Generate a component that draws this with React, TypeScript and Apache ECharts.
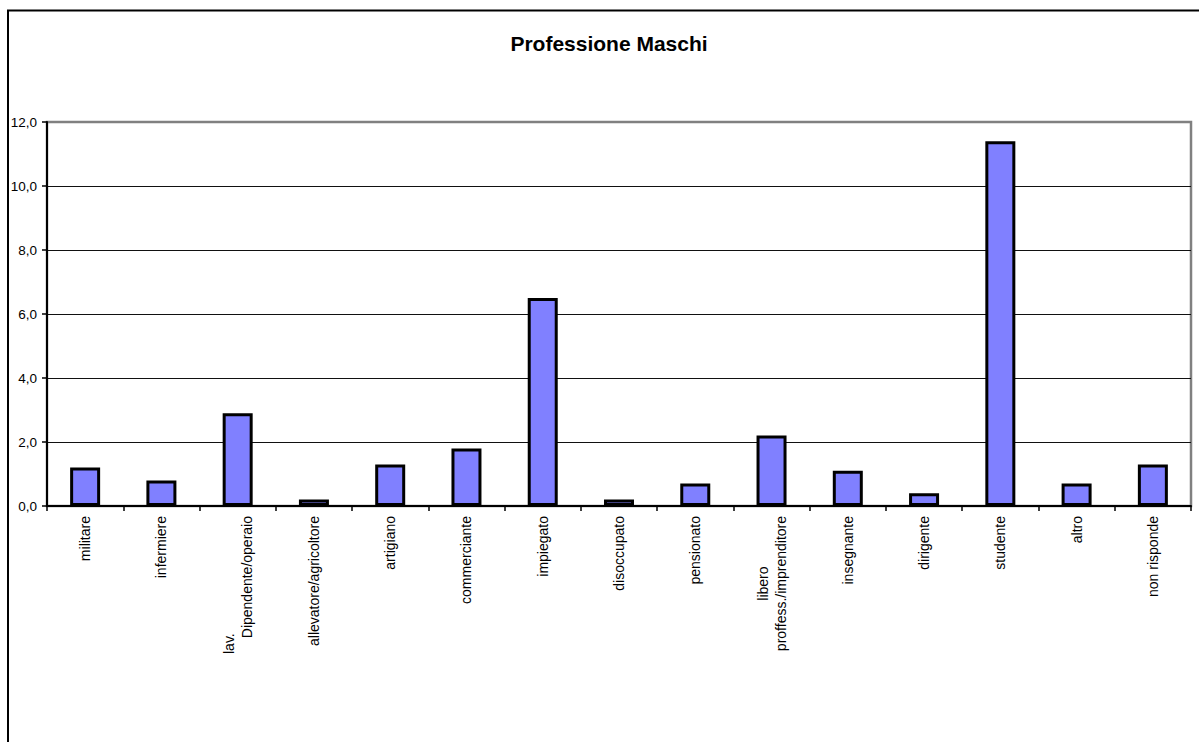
import React, { useEffect, useRef } from "react";
import * as echarts from "echarts";

const categories = [
  "militare",
  "infermiere",
  "lav.\nDipendente/operaio",
  "allevatore/agricoltore",
  "artigiano",
  "commerciante",
  "impiegato",
  "disoccupato",
  "pensionato",
  "libero\nproffess./imprenditore",
  "insegnante",
  "dirigente",
  "studente",
  "altro",
  "non risponde",
];

const values = [1.2, 0.8, 2.9, 0.2, 1.3, 1.8, 6.5, 0.2, 0.7, 2.2, 1.1, 0.4, 11.4, 0.7, 1.3];

const titleText = "Professione Maschi";
const yMin = 0;
const yMax = 12;
const yStep = 2;

const FONT = "'Liberation Sans', Arial, sans-serif";

export default function App() {
  const ref = useRef<HTMLDivElement>(null);

  useEffect(() => {
    if (!ref.current) return;
    const chart = echarts.init(ref.current, undefined, { renderer: "svg" });
    chart.setOption({
      animation: false,
      backgroundColor: "#ffffff",
      textStyle: { fontFamily: FONT },
      graphic: [
        {
          type: "rect",
          shape: { x: 8, y: 10.5, width: 1400, height: 1000 },
          style: { fill: "none", stroke: "#000", lineWidth: 2 },
          silent: true,
        },
        {
          type: "text",
          x: 609,
          y: 43,
          style: {
            text: titleText,
            fill: "#000",
            font: `bold 21px ${FONT}`,
            textAlign: "center",
            textVerticalAlign: "middle",
          },
          silent: true,
        },
      ],
      grid: {
        left: 47,
        right: 8,
        top: 122,
        bottom: 236,
        show: true,
        borderColor: "#808080",
        borderWidth: 2.5,
        backgroundColor: "transparent",
        containLabel: false,
      },
      xAxis: {
        type: "category",
        data: categories,
        axisLine: { show: true, lineStyle: { color: "#000", width: 2 } },
        axisTick: { show: true, length: 5, lineStyle: { color: "#000", width: 1.5 } },
        axisLabel: {
          interval: 0,
          rotate: 90,
          margin: 10,
          color: "#000",
          fontSize: 14,
          fontFamily: FONT,
          lineHeight: 18,
          formatter: (v: string) => {
            const parts = v.split("\n");
            if (parts.length === 1) return v;
            if (parts[0] === "lav.") {
              return `{a|${parts[0]}}\n{b|${parts[1]}}`;
            }
            return `{c|${parts[0]}}\n{c|${parts[1]}}`;
          },
          rich: {
            a: { width: 138, align: "left", fontSize: 14, fontFamily: FONT, color: "#000", lineHeight: 18 },
            b: { fontSize: 14, fontFamily: FONT, color: "#000", lineHeight: 18 },
            c: { align: "center", fontSize: 14, fontFamily: FONT, color: "#000", lineHeight: 18 },
          },
        },
        splitLine: { show: false },
      },
      yAxis: {
        type: "value",
        min: yMin,
        max: yMax,
        interval: yStep,
        axisLine: { show: true, lineStyle: { color: "#000", width: 2 } },
        axisTick: { show: true, length: 5, lineStyle: { color: "#000", width: 1.5 } },
        axisLabel: {
          margin: 10,
          color: "#000",
          fontSize: 13.5,
          fontFamily: FONT,
          formatter: (v: number) => v.toFixed(1).replace(".", ","),
        },
        splitLine: {
          show: true,
          showMaxLine: false,
          lineStyle: { color: "#111", width: 1 },
        },
      },
      series: [
        {
          type: "bar",
          data: values,
          barWidth: 30,
          itemStyle: { color: "#8080FF", borderColor: "#000", borderWidth: 3 },
          z: 3,
        },
      ],
    });
    return () => chart.dispose();
  }, []);

  return (
    <div
      ref={ref}
      style={{
        position: "fixed",
        left: 0,
        top: 0,
        width: 1199,
        height: 742,
        overflow: "hidden",
        background: "#fff",
      }}
    />
  );
}
